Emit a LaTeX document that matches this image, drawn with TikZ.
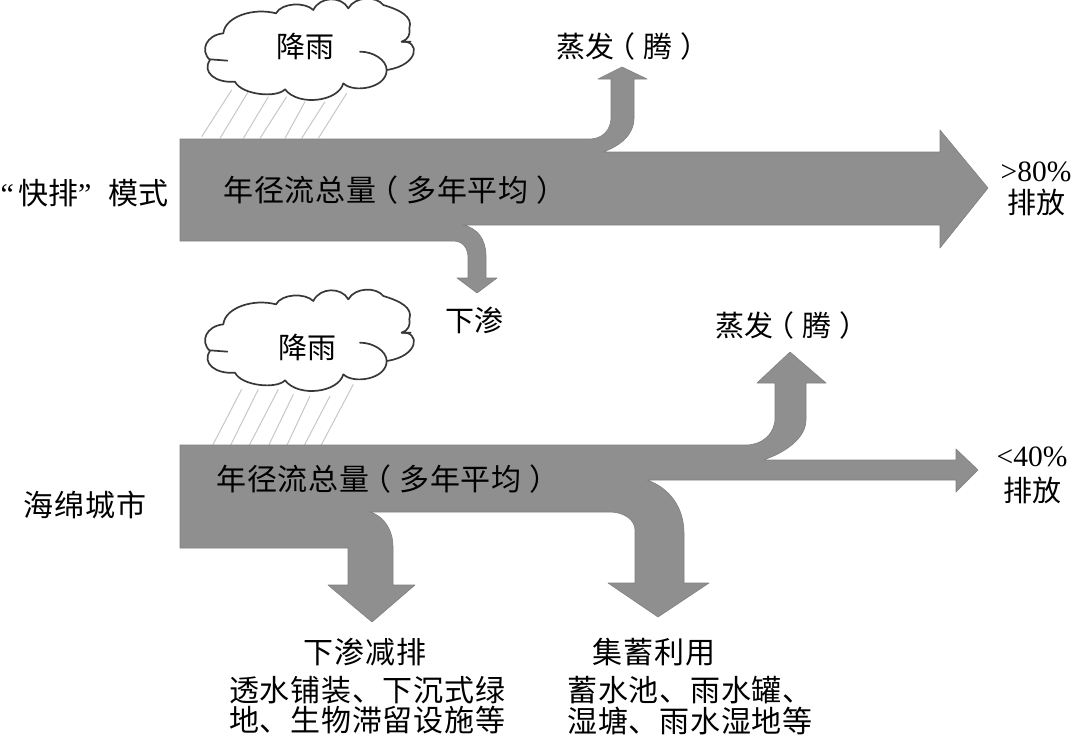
\documentclass[tikz,border=0pt]{standalone}
\usepackage{fontspec}
\setmainfont{Liberation Serif}
\newfontfamily\cjk{Noto Sans CJK SC}
\newfontfamily\cjkw[LetterSpace=2.5]{Noto Sans CJK SC}
\newcommand{\fs}[1]{\fontsize{#1}{#1}\selectfont}
\newcommand{\lpar}{\kern-.28em （\kern.28em}
\newcommand{\rpar}{\kern.28em ）\kern-.28em}
\newcommand{\cloudshape}{(120,180) .. controls (88,150) and (110,105) .. (160,100)
 .. controls (165,50) and (250,22) .. (318,40)
 .. controls (335,8) and (405,5) .. (430,30)
 .. controls (450,-12) and (515,-12) .. (535,25)
 .. controls (555,-12) and (620,-12) .. (640,15)
 .. controls (690,30) and (730,50) .. (718,85)
 .. controls (722,100) and (715,120) .. (695,125)
 .. controls (750,120) and (750,195) .. (650,210)
 .. controls (650,265) and (550,280) .. (520,250)
 .. controls (505,305) and (385,320) .. (345,268)
 .. controls (320,295) and (215,285) .. (195,245)
 .. controls (135,250) and (95,215) .. (120,180) -- cycle}
\newcommand{\cloudextra}{(120,178) -- (172,182) (570,155) .. controls (610,155) and (650,180) .. (650,210) (695,125) -- (722,125)}
\tikzset{
 flow/.style={fill=black!44,draw=black!50,line width=.6pt,line join=round},
 rain/.style={draw=black!22,line width=1pt},
 cloudline/.style={draw=black!78,line width=1.7pt,line join=round,line cap=round},
 lab/.style={inner sep=0pt,align=center,font=\cjk\fs{29}},
 labwide/.style={lab,font=\cjkw\fs{30}},
 lat/.style={inner sep=0pt,font=\fs{29.5}},
}
\begin{document}
\begin{tikzpicture}[x=1pt,y=-1pt]
\useasboundingbox (0,0) rectangle (1072,736);
% rain
\begin{scope}[shift={(170,0)},x=.33333pt,y=-.33333pt]
 \foreach \a/\b/\c/\d in {95/410/185/270,150/415/250/250,220/415/295/290,270/415/350/290,345/415/405/305,395/415/465/305,445/415/530/280}
  \draw[rain] (\a,\b) -- (\c,\d);
 \filldraw[cloudline,fill=white] \cloudshape;
 \draw[cloudline] \cloudextra;
\end{scope}
\begin{scope}[shift={(170,291)},x=.33333pt,y=-.33333pt]
 \foreach \a/\b/\c/\d in {105/507/215/295,160/507/265/295,215/507/325/295,275/507/370/310,330/507/420/315,380/507/480/315,430/507/550/280}
  \draw[rain] (\a,\b) -- (\c,\d);
 \filldraw[cloudline,fill=white] \cloudshape;
 \draw[cloudline] \cloudextra;
\end{scope}
% upper flow
\filldraw[flow] (180,139) -- (590,139) .. controls (602,139) and (611,130) .. (611,118)
 -- (611,79) -- (598,79) -- (622,67) -- (647,79) -- (634,79) -- (634,118)
 .. controls (634,135) and (620,146) .. (603,152) -- (940,152) -- (940,130) -- (988,188)
 -- (940,248) -- (940,225) -- (463,225) .. controls (478,228) and (486,240) .. (486,256)
 -- (486,278) -- (497,278) -- (477,293) -- (457,278) -- (468,278) -- (468,258)
 .. controls (468,248) and (463,241) .. (453,241) -- (180,241) -- cycle;
% lower flow
\filldraw[flow] (180,445) -- (746,445) .. controls (762,445) and (775,434) .. (775,418)
 -- (775,383) -- (757,383) -- (790,352) -- (826,383) -- (806,383) -- (806,420)
 .. controls (806,438) and (785,453) .. (763,460) -- (956,460) -- (956,449) -- (978,470)
 -- (956,492) -- (956,480) -- (647,480) .. controls (670,488) and (684,508) .. (684,533)
 -- (684,583) -- (709,583) -- (658,617) -- (608,583) -- (635,583) -- (635,530)
 .. controls (635,520) and (624,512) .. (610,512) -- (370,512) .. controls (384,516) and (393,530) .. (393,547)
 -- (393,585) -- (415,585) -- (372,622) -- (328,585) -- (348,585) -- (348,548) -- (180,548) -- cycle;
% labels
\node[lab] (rainA) at (305,46) {降雨};
\node[lab] (evapA) at (629,46) {蒸发\lpar 腾\rpar};
\node[lat] (pctA) at (1036,172) {>80\%};
\node[lab] (outA) at (1036,202) {排放};
\node[labwide,font=\cjk\fs{30}] (modeA) at (84.5,193) {{\rmfamily “}\kern4pt 快排{\rmfamily ”}\kern17pt 模式};
\node[labwide] (runA) at (391,190) {年径流总量\lpar 多年平均\rpar};
\node[lab] (seepA) at (474,320) {下渗};
\node[lab] (rainB) at (307,347) {降雨};
\node[lab] (evapB) at (788,325) {蒸发\lpar 腾\rpar};
\node[lat] (pctB) at (1032,457) {<40\%};
\node[lab] (outB) at (1032,490) {排放};
\node[labwide] (modeB) at (85,505) {海绵城市};
\node[labwide] (runB) at (384,479) {年径流总量\lpar 多年平均\rpar};
\node[labwide] (seepC) at (365,652) {下渗减排};
\node[labwide] (seepD) at (367,690) {透水铺装、下沉式绿};
\node[labwide] (seepE) at (367,720.5) {地、生物滞留设施等};
\node[labwide] (useA) at (654,652) {集蓄利用};
\node[labwide] (useB) at (690,690) {蓄水池、雨水罐、};
\node[labwide] (useC) at (690,720.5) {湿塘、雨水湿地等};
\end{tikzpicture}
\end{document}
